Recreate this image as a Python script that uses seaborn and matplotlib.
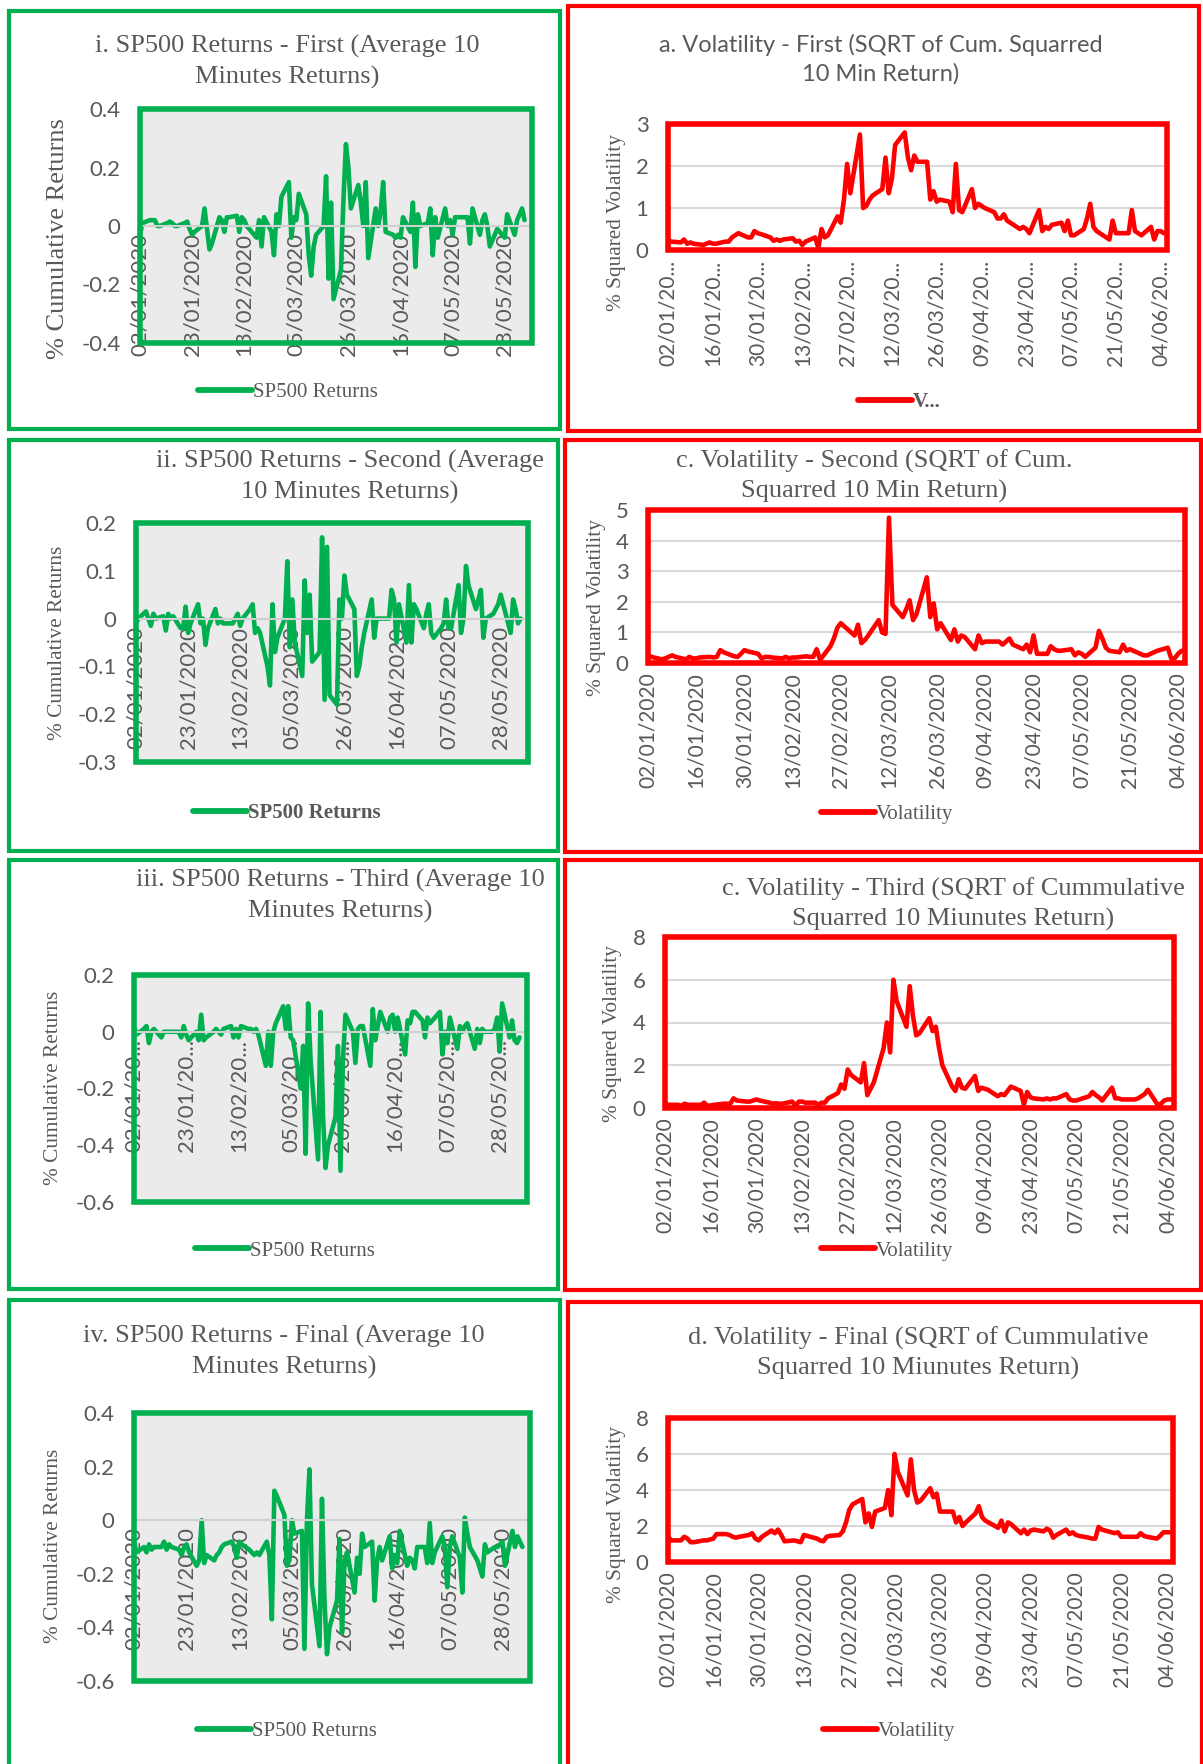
import matplotlib
matplotlib.use("Agg")
import matplotlib.pyplot as plt
from matplotlib.patches import Rectangle
import seaborn as sns
import pandas as pd

# trading days shown on every panel (one value per business day)
dates = pd.bdate_range("2020-01-02", "2020-06-05")

# values, one line per week
ret_first = [-0.03, 0.01,
             0.02, 0.02, 0.02, 0.0, 0.0,
             0.01, 0.015, 0.01, 0.0, 0.0,
             0.01, 0.015, -0.01, -0.03, -0.02,
             0.0, 0.06, -0.01, -0.08, -0.06,
             0.03, 0.02, -0.02, 0.03, 0.03,
             0.035, -0.02, 0.03, 0.02, 0.0,
             -0.03, -0.04, 0.02, -0.07, 0.03,
             -0.02, -0.1, 0.04, 0.0, 0.1,
             0.15, -0.04, 0.03, 0.02, 0.11,
             0.04, -0.1, -0.17, -0.07, -0.03,
             0.0, 0.17, -0.18, 0.08, -0.25,
             -0.15, 0.09, 0.28, 0.2, 0.06,
             0.14, 0.08, 0.0, 0.15, -0.11,
             0.06, 0.0, 0.05, 0.15, -0.02,
             -0.03, -0.04, -0.03, -0.04, 0.03,
             -0.02, 0.08, -0.14, 0.04, 0.0,
             0.01, 0.06, -0.1, 0.03, -0.04,
             0.06, 0.0, 0.02, -0.03, 0.03,
             0.03, 0.03, 0.03, -0.06, 0.06,
             -0.03, 0.02, 0.04, 0.0, -0.07,
             -0.01, -0.02, -0.03, -0.04, 0.04,
             -0.03, 0.02, 0.04, 0.06, 0.02]

vol_first = [0.25, 0.2,
             0.18, 0.25, 0.15, 0.18, 0.15,
             0.12, 0.15, 0.18, 0.15, 0.15,
             0.2, 0.2, 0.3, 0.35, 0.4,
             0.3, 0.3, 0.45, 0.4, 0.38,
             0.3, 0.22, 0.25, 0.22, 0.25,
             0.28, 0.2, 0.22, 0.12, 0.2,
             0.3, 0.05, 0.5, 0.3, 0.35,
             0.8, 0.65, 1.2, 2.05, 1.35,
             2.75, 1.0, 1.05, 1.2, 1.3,
             1.45, 2.2, 1.35, 1.7, 2.5,
             2.8, 2.2, 1.9, 2.25, 2.1,
             2.1, 1.2, 1.4, 1.15, 1.2,
             1.15, 0.9, 2.05, 0.95, 0.9,
             1.45, 1.0, 1.1, 1.05, 1.0,
             0.9, 0.75, 0.75, 0.85, 0.7,
             0.55, 0.5, 0.55, 0.5, 0.4,
             0.95, 0.45, 0.55, 0.5, 0.6,
             0.65, 0.45, 0.7, 0.35, 0.35,
             0.5, 0.75, 1.1, 0.55, 0.45,
             0.3, 0.25, 0.7, 0.4, 0.4,
             0.4, 0.95, 0.45, 0.4, 0.35,
             0.55, 0.25, 0.45, 0.45, 0.4]

ret_second = [-0.01, 0.0,
              0.015, 0.0, -0.015, 0.01, 0.0,
              0.005, -0.025, 0.01, 0.0, 0.005,
              -0.02, -0.02, 0.025, -0.03, -0.01,
              0.03, -0.01, 0.0, -0.055, -0.02,
              0.02, -0.01, 0.0, -0.01, -0.01,
              -0.01, 0.0, 0.01, -0.015, 0.0,
              0.02, 0.03, -0.03, -0.02, -0.03,
              -0.1, -0.14, 0.03, -0.07, -0.04,
              0.0, 0.12, -0.06, 0.04, -0.05,
              -0.12, 0.08, -0.03, 0.05, -0.09,
              -0.07, 0.17, -0.17, 0.15, -0.16,
              -0.18, 0.04, 0.0, 0.09, 0.05,
              0.02, -0.12, -0.1, -0.06, -0.03,
              0.04, -0.04, 0.0, 0.0, 0.0,
              0.0, 0.06, 0.04, -0.05, 0.03,
              -0.05, 0.07, -0.05, 0.03, 0.02,
              -0.02, 0.01, 0.03, -0.03, -0.04,
              -0.02, -0.01, 0.04, -0.02, -0.02,
              0.07, -0.03, 0.0, 0.11, 0.07,
              0.02, 0.04, 0.06, -0.04, 0.0,
              0.01, 0.02, 0.03, 0.05, 0.03,
              -0.03, 0.04, 0.02, -0.01, 0.0]

vol_second = [0.25, 0.2,
              0.12, 0.15, 0.2, 0.25, 0.2,
              0.12, 0.2, 0.15, 0.15, 0.18,
              0.2, 0.18, 0.2, 0.42, 0.35,
              0.22, 0.2, 0.3, 0.42, 0.38,
              0.3, 0.15, 0.2, 0.2, 0.18,
              0.15, 0.2, 0.15, 0.18, 0.18,
              0.22, 0.2, 0.2, 0.45, 0.1,
              0.55, 0.8, 1.15, 1.3, 1.2,
              0.9, 1.25, 0.65, 0.75, 0.9,
              1.4, 1.0, 0.95, 4.75, 1.9,
              1.5, 1.75, 2.05, 1.4, 1.6,
              2.8, 1.5, 1.95, 1.1, 1.3,
              0.75, 1.1, 0.7, 0.9, 0.85,
              0.45, 0.9, 0.65, 0.7, 0.7,
              0.7, 0.6, 0.7, 0.8, 0.6,
              0.45, 0.6, 0.35, 0.9, 0.3,
              0.3, 0.55, 0.45, 0.4, 0.4,
              0.45, 0.25, 0.35, 0.3, 0.2,
              0.5, 1.05, 0.8, 0.5, 0.4,
              0.35, 0.6, 0.4, 0.45, 0.4,
              0.25, 0.25, 0.3, 0.35, 0.4,
              0.5, 0.15, 0.15, 0.3, 0.4]

ret_third = [0.02, -0.01,
             0.01, 0.02, -0.04, 0.0, 0.01,
             -0.02, 0.0, 0.0, 0.0, 0.0,
             0.0, -0.02, 0.02, -0.01, -0.03,
             0.0, -0.03, 0.06, -0.03, -0.02,
             0.0, 0.01, 0.0, -0.01, 0.01,
             0.02, -0.02, 0.01, -0.02, 0.02,
             0.01, 0.01, 0.0, 0.01, -0.01,
             -0.12, 0.0, -0.12, 0.0, 0.03,
             0.09, 0.01, 0.09, -0.02, -0.03,
             -0.2, -0.05, -0.43, 0.1, -0.1,
             -0.45, 0.07, -0.3, -0.48, -0.4,
             -0.3, -0.05, -0.49, -0.1, 0.06,
             0.0, -0.11, 0.01, 0.02, 0.02,
             -0.12, 0.08, -0.03, 0.02, 0.07,
             0.0, 0.05, 0.06, 0.0, 0.05,
             -0.08, 0.04, 0.03, 0.07, 0.07,
             0.04, -0.02, 0.05, 0.03, 0.04,
             0.07, -0.08, 0.0, -0.04, 0.05,
             -0.06, 0.02, 0.0, 0.02, 0.03,
             -0.06, 0.01, -0.04, 0.01, 0.0,
             0.0, 0.01, 0.05, -0.07, 0.1,
             -0.02, 0.04, -0.03, -0.04, -0.02]

vol_third = [0.2, 0.15,
             0.15, 0.1, 0.2, 0.15, 0.15,
             0.15, 0.25, 0.1, 0.12, 0.15,
             0.2, 0.2, 0.2, 0.45, 0.35,
             0.3, 0.3, 0.35, 0.4, 0.35,
             0.25, 0.2, 0.22, 0.2, 0.2,
             0.3, 0.1, 0.3, 0.3, 0.25,
             0.25, 0.15, 0.25, 0.25, 0.45,
             0.7, 1.1, 0.9, 1.8, 1.55,
             1.2, 2.1, 0.6, 0.9, 1.2,
             2.8, 4.0, 2.6, 6.0, 5.0,
             3.8, 5.7, 4.3, 3.4, 3.5,
             4.2, 3.6, 3.8, 2.8, 2.0,
             1.0, 0.8, 1.35, 0.95, 0.9,
             1.5, 0.8, 0.95, 0.9, 0.85,
             0.55, 0.65, 0.6, 0.8, 1.0,
             0.8, 0.15, 0.75, 0.5, 0.45,
             0.4, 0.45, 0.4, 0.45, 0.45,
             0.65, 0.4, 0.35, 0.35, 0.4,
             0.55, 0.75, 0.6, 0.5, 0.35,
             0.95, 0.45, 0.45, 0.4, 0.4,
             0.4, 0.45, 0.55, 0.65, 0.85,
             0.15, 0.2, 0.35, 0.4, 0.4]

ret_final = [-0.08, -0.12,
             -0.1, -0.12, -0.09, -0.11, -0.1,
             -0.1, -0.08, -0.11, -0.09, -0.1,
             -0.11, -0.13, -0.1, -0.09, -0.12,
             -0.17, -0.15, 0.0, -0.16, -0.13,
             -0.15, -0.13, -0.12, -0.1, -0.09,
             -0.08, -0.1, -0.14, -0.08, -0.09,
             -0.11, -0.12, -0.13, -0.12, -0.13,
             -0.08, -0.13, -0.37, 0.11, 0.09,
             0.02, -0.17, -0.15, 0.0, -0.05,
             -0.04, -0.48, 0.0, 0.19, -0.24,
             -0.47, 0.08, -0.3, -0.5, -0.4,
             -0.3, -0.07, -0.42, -0.15, -0.12,
             -0.27, -0.14, -0.2, -0.05, -0.1,
             -0.08, -0.3, -0.15, -0.1, -0.15,
             -0.06, -0.18, -0.13, -0.16, -0.04,
             -0.17, -0.14, -0.15, -0.18, -0.1,
             -0.1, -0.16, -0.01, -0.16, -0.12,
             -0.06, -0.1, -0.25, -0.1, -0.06,
             -0.14, -0.27, 0.01, -0.05, -0.1,
             -0.15, -0.18, -0.21, -0.09, -0.12,
             -0.1, -0.1, -0.09, -0.08, -0.17,
             -0.04, -0.1, -0.06, -0.08, -0.1]

vol_final = [1.4, 1.2,
             1.2, 1.4, 1.3, 1.1, 1.1,
             1.2, 1.2, 1.25, 1.3, 1.55,
             1.55, 1.5, 1.4, 1.35, 1.4,
             1.5, 1.6, 1.3, 1.2, 1.4,
             1.75, 1.6, 1.8, 1.5, 1.15,
             1.2, 1.15, 1.1, 1.5, 1.45,
             1.3, 1.2, 1.15, 1.4, 1.45,
             1.5, 1.7, 2.2, 2.9, 3.2,
             3.5, 2.2, 2.7, 1.95, 2.8,
             3.0, 4.0, 2.6, 6.0, 5.0,
             3.7, 5.7, 4.0, 3.3, 3.4,
             4.1, 3.6, 3.8, 2.8, 2.8,
             2.8, 2.2, 2.5, 2.0, 2.2,
             2.7, 3.1, 2.5, 2.3, 2.2,
             1.9, 2.3, 1.7, 2.2, 2.1,
             1.6, 1.8, 1.55, 1.75, 1.8,
             1.7, 1.85, 1.75, 1.35, 1.5,
             1.8, 1.55, 1.65, 1.5, 1.45,
             1.35, 1.3, 1.3, 1.95, 1.8,
             1.65, 1.6, 1.65, 1.4, 1.4,
             1.4, 1.4, 1.6, 1.45, 1.4,
             1.3, 1.45, 1.65, 1.65, 1.65]

ret_ticks = pd.date_range("2020-01-02", "2020-05-28", freq="21D")
vol_ticks = pd.date_range("2020-01-02", "2020-06-04", freq="14D")
ret_labels = [d.strftime("%d/%m/%Y") for d in ret_ticks]
ret_labels_short = [d.strftime("%d/%m/20") + "..." for d in ret_ticks]
vol_labels = [d.strftime("%d/%m/%Y") for d in vol_ticks]
vol_labels_short = [d.strftime("%d/%m/20") + "..." for d in vol_ticks]

GREEN = "#00b050"
RED = "#ff0000"
GREY = "#595959"
W, H = 1203, 1764

sns.set_style("white")
plt.rcParams["font.family"] = ["Lato", "DejaVu Sans"]

fig = plt.figure(figsize=(W / 100, H / 100), dpi=100)


def fig_box(x0, y0, x1, y1):
    return [x0 / W, 1 - y1 / H, (x1 - x0) / W, (y1 - y0) / H]


# outer frames round each chart
frames = [(9, 11, 560, 429, GREEN), (568, 6, 1199, 431, RED),
          (9, 440, 558, 851, GREEN), (565, 440, 1201, 852, RED),
          (9, 860, 558, 1289, GREEN), (565, 860, 1201, 1290, RED),
          (9, 1300, 560, 1775, GREEN), (568, 1302, 1202, 1775, RED)]
for x0, y0, x1, y1, c in frames:
    b = fig_box(x0, y0, x1, y1)
    fig.add_artist(Rectangle((b[0], b[1]), b[2], b[3], transform=fig.transFigure,
                             fill=False, ec=c, lw=3))


def draw_panel(vals, kind, rect, color, yticks, xlabels, title, title_xy, title_font,
               ylabel, ylabel_xy, ylabel_size, legend_label, legend_xy, legend_weight="normal"):
    ax = fig.add_axes(fig_box(*rect))
    sns.lineplot(x=dates, y=vals, ax=ax, color=color, lw=3.3, label=legend_label)
    for s in ["top", "left", "right"]:
        ax.spines[s].set_visible(False)
    if kind == "ret":
        # category axis crosses at zero, so the date labels hang inside the plot
        ax.spines["bottom"].set_position(("data", 0))
        ax.spines["bottom"].set_color("#d0d0d0")
        ax.spines["bottom"].set_linewidth(1.5)
        ax.set_facecolor("#ebebeb")
        ax.set_xlim(dates[0], pd.Timestamp("2020-06-08"))
        ticks = ret_ticks
        xsize, xpad = 16, 5
    else:
        ax.spines["bottom"].set_visible(False)
        ax.set_facecolor("white")
        ax.set_xlim(dates[0], pd.Timestamp("2020-06-06"))
        ax.yaxis.grid(True, color="#d9d9d9", lw=1.5)
        ticks = vol_ticks
        xsize, xpad = 15, 7
    ax.set_ylim(yticks[0], yticks[-1])
    ax.set_yticks(yticks)
    ax.set_yticklabels([f"{t:g}" for t in yticks])
    ax.set_xticks(ticks)
    ax.set_xticklabels(xlabels)
    ax.set_xlabel("")
    ax.set_ylabel("")
    ax.tick_params(axis="both", length=0, labelcolor=GREY)
    ax.tick_params(axis="x", labelrotation=90, labelsize=xsize, pad=xpad)
    ax.tick_params(axis="y", labelsize=16, pad=14)
    ax.add_patch(Rectangle((0, 0), 1, 1, transform=ax.transAxes, fill=False,
                           ec=color, lw=4, clip_on=False, zorder=5))
    leg = ax.legend(loc="center", bbox_to_anchor=(legend_xy[0] / W, 1 - legend_xy[1] / H),
                    bbox_transform=fig.transFigure, frameon=False, handlelength=2.6,
                    handletextpad=0.05,
                    prop={"family": "Liberation Serif", "size": 15, "weight": legend_weight},
                    labelcolor=GREY)
    for ln in leg.get_lines():
        ln.set_linewidth(4.2)
    fam, size = title_font
    fig.text(title_xy[0] / W, 1 - title_xy[1] / H, title, ha="center", va="center",
             family=fam, fontsize=size, color=GREY, linespacing=1.4)
    fig.text(ylabel_xy[0] / W, 1 - ylabel_xy[1] / H, ylabel, rotation=90,
             ha="center", va="center", family="Liberation Serif",
             fontsize=ylabel_size, color=GREY)
    return ax


serif = ("Liberation Serif", 19)

draw_panel(ret_first, "ret", (140, 109, 532, 343), GREEN, [-0.4, -0.2, 0, 0.2, 0.4],
           ret_labels, "i. SP500 Returns - First (Average 10\nMinutes Returns)", (287, 62), serif,
           "% Cumulative Returns", (58, 239), 19, "SP500 Returns", (288, 392))

draw_panel(vol_first, "vol", (668, 124, 1167, 250), RED, [0, 1, 2, 3],
           vol_labels_short, "a. Volatility - First (SQRT of Cum. Squarred\n10 Min Return)", (881, 59),
           ("Lato", 17), "% Squared Volatility", (617, 223), 15.3, "V...", (899, 402), "bold")

draw_panel(ret_second, "ret", (136, 523, 528, 762), GREEN, [-0.3, -0.2, -0.1, 0, 0.1, 0.2],
           ret_labels, "ii. SP500 Returns - Second (Average\n10 Minutes Returns)", (350, 477), serif,
           "% Cumulative Returns", (58, 643), 15.3, "SP500 Returns", (287, 813), "bold")

draw_panel(vol_second, "vol", (648, 510, 1185, 663), RED, [0, 1, 2, 3, 4, 5],
           vol_labels, "c. Volatility - Second (SQRT of Cum.\nSquarred 10 Min Return)", (874, 476), serif,
           "% Squared Volatility", (596, 608), 15.3, "Volatility", (887, 814))

draw_panel(ret_third, "ret", (134, 975, 527, 1202), GREEN, [-0.6, -0.4, -0.2, 0, 0.2],
           ret_labels_short, "iii. SP500 Returns - Third (Average 10\nMinutes Returns)", (340, 896), serif,
           "% Cumulative Returns", (54, 1088), 15.3, "SP500 Returns", (285, 1251))

draw_panel(vol_third, "vol", (665, 937, 1174, 1108), RED, [0, 2, 4, 6, 8],
           vol_labels, "c. Volatility - Third (SQRT of Cummulative\nSquarred 10 Miunutes Return)", (953, 904),
           serif, "% Squared Volatility", (612, 1034), 15.3, "Volatility", (887, 1251))

draw_panel(ret_final, "ret", (134, 1413, 530, 1681), GREEN, [-0.6, -0.4, -0.2, 0, 0.2, 0.4],
           ret_labels, "iv. SP500 Returns - Final (Average 10\nMinutes Returns)", (284, 1352), serif,
           "% Cumulative Returns", (54, 1546), 15.3, "SP500 Returns", (287, 1731))

draw_panel(vol_final, "vol", (668, 1418, 1173, 1562), RED, [0, 2, 4, 6, 8],
           vol_labels, "d. Volatility - Final (SQRT of Cummulative\nSquarred 10 Miunutes Return)", (918, 1353),
           serif, "% Squared Volatility", (616, 1515), 15.3, "Volatility", (889, 1731))

fig.savefig("out.png", dpi=100)
